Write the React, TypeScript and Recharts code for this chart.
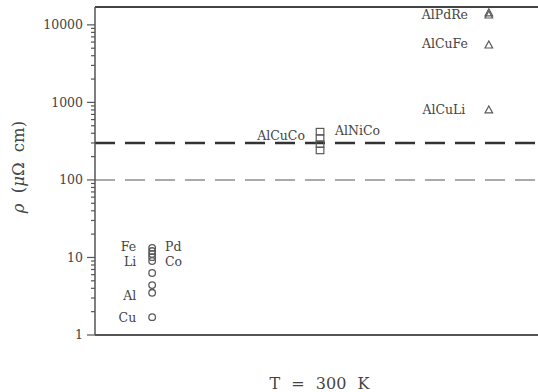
import React from "react";
import {
  ScatterChart,
  Scatter,
  XAxis,
  YAxis,
  ReferenceLine,
  Label,
} from "recharts";

// Group x positions (categories along the horizontal axis)
const groupX = { metals: 1.29, alloys: 5.08, quasicrystals: 8.89 };

// Resistivity values (μΩ cm)
const metalValues = [13.3, 12.1, 11.1, 10.1, 9.0, 6.3, 4.4, 3.5, 1.7];
const alloyValues = [420, 345, 290, 240];
const quasiValues = [14300, 13400, 5500, 800];

// Text labels: name, x, y, anchor
const labelNames = ["AlPdRe", "AlCuFe", "AlCuLi", "AlCuCo", "AlNiCo", "Fe", "Li", "Al", "Cu", "Pd", "Co"];
const labelX = [8.42, 8.42, 8.36, 4.74, 5.42, 0.93, 0.93, 0.93, 0.93, 1.58, 1.58];
const labelY = [13460, 5690, 800, 370, 429, 13.6, 8.75, 3.19, 1.7, 13.6, 8.75];
const labelAnchor = ["end", "end", "end", "end", "start", "end", "end", "end", "end", "start", "start"];

// Reference levels
const darkLevel = 300;
const lightLevel = 100;

// Y domain and ticks
const yDomain = [1, 17000];
const majorTicks = [1, 10, 100, 1000, 10000];
const minorMultipliers = [2, 3, 4, 5, 6, 7, 8, 9];

const allTicks: number[] = [];
majorTicks.forEach((m) => {
  allTicks.push(m);
  minorMultipliers.forEach((k) => {
    const v = m * k;
    if (v <= yDomain[1]) allTicks.push(v);
  });
});

const metalData = metalValues.map((y) => ({ x: groupX.metals, y }));
const alloyData = alloyValues.map((y) => ({ x: groupX.alloys, y }));
const quasiData = quasiValues.map((y) => ({ x: groupX.quasicrystals, y }));
const labelData = labelNames.map((name, i) => ({
  x: labelX[i],
  y: labelY[i],
  name,
  anchor: labelAnchor[i],
}));

const FONT = "'DejaVu Serif', 'Liberation Serif', serif";
const MARK = "#5a5a5a";

const CircleShape = (props: any) => (
  <circle cx={props.cx} cy={props.cy} r={3.3} fill="none" stroke={MARK} strokeWidth={1.3} />
);
const SquareShape = (props: any) => (
  <rect x={props.cx - 3.8} y={props.cy - 3.2} width={7.6} height={6.4} fill="none" stroke={MARK} strokeWidth={1.2} />
);
const TriangleShape = (props: any) => {
  const { cx, cy } = props;
  return (
    <polygon
      points={`${cx - 3.8},${cy + 3} ${cx + 3.8},${cy + 3} ${cx},${cy - 4}`}
      fill="none"
      stroke={MARK}
      strokeWidth={1.2}
    />
  );
};
const TextShape = (props: any) => (
  <text
    x={props.cx}
    y={props.cy}
    dy="0.35em"
    textAnchor={props.payload.anchor}
    fontFamily={FONT}
    fontSize={12.5}
    fill="#444"
  >
    {props.payload.name}
  </text>
);

const YTick = (props: any) => {
  const { x, y, payload } = props;
  const v = payload.value;
  const isMajor = majorTicks.includes(v);
  return (
    <g>
      <line x1={x - (isMajor ? 8 : 4)} x2={x} y1={y} y2={y} stroke="#555" strokeWidth={1.2} />
      {isMajor && (
        <text x={x - 12} y={y} dy="0.35em" textAnchor="end" fontFamily={FONT} fontSize={12.5} fill="#444">
          {v}
        </text>
      )}
    </g>
  );
};

export default function App() {
  return (
    <div style={{ position: "absolute", left: 0, top: 0, background: "#fff" }}>
      <ScatterChart width={538} height={392} margin={{ top: 7, right: 0, bottom: 0, left: 0 }}>
        <XAxis
          type="number"
          dataKey="x"
          domain={[0, 10]}
          tick={false}
          tickLine={false}
          height={57}
          axisLine={{ stroke: "#555", strokeWidth: 2 }}
        >
          <Label
            content={(p: any) => {
              const vb = p.viewBox;
              return (
                <text
                  x={vb.x + vb.width / 2 + 3}
                  y={vb.y + 54}
                  textAnchor="middle"
                  fontFamily={FONT}
                  fontSize={16}
                  fill="#444"
                  wordSpacing={6}
                >
                  T = 300 K
                </text>
              );
            }}
          />
        </XAxis>
        <YAxis
          type="number"
          dataKey="y"
          scale="log"
          domain={yDomain}
          allowDataOverflow
          ticks={allTicks}
          interval={0}
          width={95}
          tickSize={0}
          tickMargin={0}
          tickLine={false}
          tick={<YTick />}
          axisLine={{ stroke: "#555", strokeWidth: 1.5 }}
        >
          <Label
            content={(p: any) => {
              const vb = p.viewBox;
              const cx = 18;
              const cy = vb.y + vb.height / 2 - 4;
              return (
                <text
                  x={cx}
                  y={cy}
                  transform={`rotate(-90, ${cx}, ${cy})`}
                  textAnchor="middle"
                  dy="0.35em"
                  fontFamily={FONT}
                  fontSize={16.5}
                  fill="#444"
                  wordSpacing={5}
                >
                  <tspan fontStyle="italic">ρ</tspan>
                  <tspan> (</tspan>
                  <tspan fontStyle="italic">μ</tspan>
                  <tspan>Ω cm)</tspan>
                </text>
              );
            }}
          />
        </YAxis>
        <ReferenceLine y={yDomain[1]} stroke="#444" strokeWidth={2} />
        <ReferenceLine y={lightLevel} stroke="#aaa" strokeWidth={2} strokeDasharray="20 10" />
        <ReferenceLine y={darkLevel} stroke="#333" strokeWidth={2.5} strokeDasharray="20 10" />
        <Scatter data={metalData} shape={CircleShape} isAnimationActive={false} />
        <Scatter data={alloyData} shape={SquareShape} isAnimationActive={false} />
        <Scatter data={quasiData} shape={TriangleShape} isAnimationActive={false} />
        <Scatter data={labelData} shape={TextShape} isAnimationActive={false} />
      </ScatterChart>
    </div>
  );
}
